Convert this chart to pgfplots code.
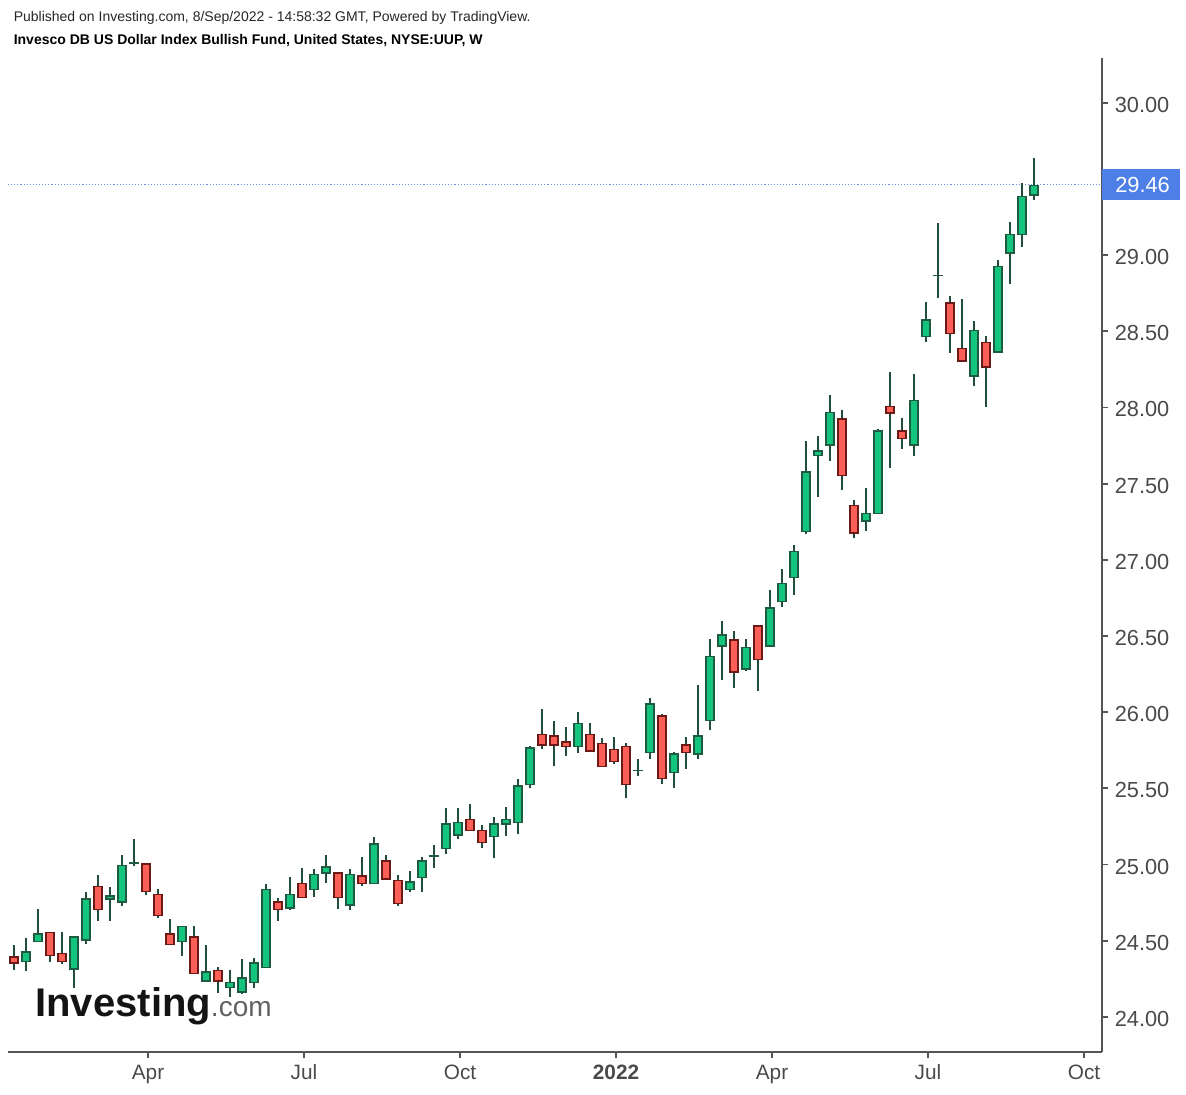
\documentclass[border=0pt]{standalone}
\usepackage{fontspec}
\setmainfont{Liberation Sans}
\usepackage{pgfplots}
\usepackage{pgfplotstable}
\pgfplotsset{compat=1.18}

\definecolor{upfill}{HTML}{12C47C}
\definecolor{upline}{HTML}{1F5A43}
\definecolor{dnfill}{HTML}{FF5F57}
\definecolor{dnline}{HTML}{6B1A16}
\definecolor{wick}{HTML}{204D3C}
\definecolor{axisgray}{HTML}{555555}
\definecolor{labgray}{HTML}{4A4A4A}
\definecolor{pblue}{HTML}{4D7FE6}

% rising weeks
\pgfplotstableread{
x o h l c
26 24.36 24.52 24.30 24.43
38 24.49 24.71 24.49 24.55
74 24.31 24.53 24.19 24.53
86 24.50 24.82 24.48 24.78
110 24.77 24.85 24.63 24.80
122 24.75 25.06 24.73 25.00
182 24.49 24.60 24.40 24.60
206 24.23 24.47 24.23 24.30
230 24.19 24.31 24.13 24.23
242 24.16 24.38 24.15 24.26
254 24.22 24.39 24.19 24.36
266 24.32 24.87 24.32 24.84
290 24.71 24.92 24.70 24.81
314 24.83 24.97 24.79 24.94
326 24.94 25.06 24.88 24.99
350 24.73 24.97 24.70 24.94
374 24.87 25.18 24.87 25.14
410 24.83 24.96 24.82 24.89
422 24.91 25.05 24.82 25.03
446 25.10 25.37 25.07 25.27
458 25.19 25.37 25.17 25.28
494 25.18 25.31 25.04 25.27
506 25.26 25.38 25.19 25.30
518 25.27 25.56 25.20 25.52
530 25.52 25.78 25.50 25.77
578 25.77 26.00 25.73 25.93
650 25.73 26.09 25.69 26.06
674 25.60 25.74 25.50 25.73
698 25.72 26.18 25.69 25.85
710 25.94 26.48 25.88 26.37
722 26.43 26.60 26.21 26.51
746 26.28 26.48 26.27 26.43
770 26.43 26.80 26.43 26.69
782 26.72 26.94 26.69 26.85
794 26.88 27.10 26.77 27.06
806 27.18 27.78 27.17 27.58
818 27.68 27.81 27.41 27.72
830 27.75 28.08 27.65 27.97
866 27.25 27.47 27.19 27.31
878 27.30 27.86 27.30 27.85
914 27.75 28.22 27.68 28.05
926 28.46 28.69 28.43 28.58
974 28.20 28.57 28.14 28.51
998 28.36 28.97 28.36 28.93
1010 29.01 29.22 28.81 29.14
1022 29.13 29.47 29.05 29.39
1034 29.39 29.64 29.36 29.46
}\upT

% falling weeks
\pgfplotstableread{
x o h l c
14 24.40 24.47 24.31 24.35
50 24.56 24.56 24.36 24.40
62 24.42 24.56 24.35 24.36
98 24.86 24.93 24.63 24.70
146 25.01 25.01 24.80 24.82
158 24.81 24.84 24.65 24.66
170 24.55 24.64 24.47 24.47
194 24.53 24.60 24.28 24.28
218 24.31 24.33 24.16 24.23
278 24.76 24.78 24.63 24.70
302 24.88 24.98 24.78 24.78
338 24.95 24.95 24.71 24.78
362 24.93 25.05 24.86 24.87
386 25.03 25.06 24.90 24.90
398 24.90 24.93 24.73 24.74
470 25.30 25.40 25.22 25.22
482 25.23 25.26 25.11 25.14
542 25.86 26.02 25.76 25.78
554 25.85 25.94 25.65 25.78
566 25.81 25.90 25.71 25.77
590 25.86 25.93 25.74 25.74
602 25.80 25.83 25.64 25.64
614 25.76 25.84 25.66 25.67
626 25.78 25.80 25.44 25.52
662 25.98 25.99 25.53 25.56
686 25.79 25.84 25.63 25.73
734 26.48 26.53 26.16 26.26
758 26.57 26.57 26.14 26.34
842 27.93 27.98 27.46 27.55
854 27.36 27.39 27.14 27.17
890 28.01 28.23 27.60 27.96
902 27.85 27.93 27.73 27.79
950 28.69 28.73 28.36 28.48
962 28.39 28.71 28.30 28.30
986 28.43 28.47 28.00 28.26
}\downT

% near-doji weeks
\pgfplotstableread{
x o h l c
134 25.005 25.17 24.99 25.02
434 25.053 25.13 24.98 25.062
638 25.612 25.69 25.58 25.622
938 28.862 29.21 28.72 28.872
}\dojiT

\pgfplotsset{
  candle part/.style={draw=none, mark=none, forget plot,
    error bars/.cd, y dir=plus, y explicit, error mark=none},
}

\begin{document}
\begin{tikzpicture}
\useasboundingbox (0,0) rectangle (593pt,547pt);

\node[anchor=base west, inner sep=0pt, font=\fontsize{7}{8.5}\selectfont, text=black!85] at (6.7pt,536.15pt)
  {Published on Investing.com, 8/Sep/2022 - 14:58:32 GMT, Powered by TradingView.};
\node[anchor=base west, inner sep=0pt, font=\fontsize{7}{8.5}\selectfont\bfseries, text=black] at (6.7pt,524.5pt)
  {Invesco DB US Dollar Index Bullish Fund, United States, NYSE:UUP, W};

\node[anchor=base west, inner sep=0pt, font=\fontsize{20}{24}\selectfont\bfseries, text=black!92] at (17.5pt,38.65pt)
  {Investing\textcolor{black!62}{\fontsize{14}{16}\selectfont\mdseries .com}};

\begin{axis}[
  at={(4pt,21.15pt)}, anchor=south west,
  scale only axis, width=546.85pt, height=496.85pt,
  xmin=8, xmax=1101.7, ymin=23.772, ymax=30.293,
  axis x line*=bottom, axis y line*=right,
  axis line style={-, draw=axisgray, line width=0.9pt},
  tick align=outside, major tick length=3pt,
  tick style={draw=axisgray, line width=0.9pt},
  xtick={148,304,460,616,772,928,1084},
  xticklabels={Apr,Jul,Oct,\textbf{2022},Apr,Jul,Oct},
  ytick={24,24.5,25,25.5,26,26.5,27,27.5,28,28.5,29,30},
  /pgf/number format/assume math mode=true,
  xticklabel style={font=\fontsize{10.4}{12}\selectfont, text=labgray},
  yticklabel style={font=\fontsize{10.9}{12}\selectfont, text=labgray, yshift=-1pt,
    /pgf/number format/.cd, fixed, fixed zerofill, precision=2},
  clip=false,
]
% last price line
\addplot[pblue!85, densely dotted, line width=0.55pt, forget plot] coordinates {(8,29.46) (1101.7,29.46)};

% wicks
\addplot[candle part, error bar style={draw=wick, line width=0.7pt}]
  table[x=x, y=l, y error plus expr=\thisrow{h}-\thisrow{l}] {\upT};
\addplot[candle part, error bar style={draw=wick, line width=0.7pt}]
  table[x=x, y=l, y error plus expr=\thisrow{h}-\thisrow{l}] {\downT};
\addplot[candle part, error bar style={draw=wick, line width=0.7pt}]
  table[x=x, y=l, y error plus expr=\thisrow{h}-\thisrow{l}] {\dojiT};

% rising bodies
\addplot[candle part, error bar style={draw=upline, line width=4.6pt, line cap=butt}]
  table[x=x, y=o, y error plus expr=\thisrow{c}-\thisrow{o}] {\upT};
\addplot[candle part, error bar style={draw=upfill, line width=3.1pt, line cap=butt, shorten <=0.75pt, shorten >=0.75pt}]
  table[x=x, y=o, y error plus expr=\thisrow{c}-\thisrow{o}] {\upT};

% falling bodies
\addplot[candle part, error bar style={draw=dnline, line width=4.6pt, line cap=butt}]
  table[x=x, y=c, y error plus expr=\thisrow{o}-\thisrow{c}] {\downT};
\addplot[candle part, error bar style={draw=dnfill, line width=3.1pt, line cap=butt, shorten <=0.75pt, shorten >=0.75pt}]
  table[x=x, y=c, y error plus expr=\thisrow{o}-\thisrow{c}] {\downT};

% doji bodies
\addplot[candle part, error bar style={draw=upline, line width=4.6pt, line cap=butt}]
  table[x=x, y=o, y error plus expr=\thisrow{c}-\thisrow{o}] {\dojiT};

% last price label
\node[anchor=west, fill=pblue, text=white, inner xsep=0pt, inner ysep=0pt,
  minimum height=15.5pt, text width=38.8pt, align=left,
  font=\fontsize{10.9}{12}\selectfont] at (axis cs:1101.7,29.46) {\hspace*{6.6pt}29.46};
\end{axis}
\end{tikzpicture}
\end{document}
